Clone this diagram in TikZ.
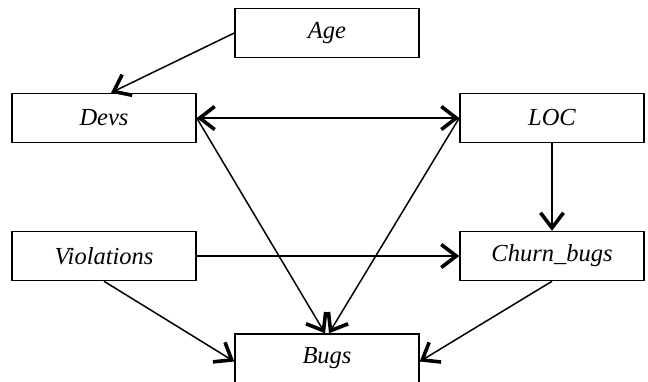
\documentclass[tikz,border=0pt]{standalone}
\usepackage{fontspec}
\setmainfont{Liberation Serif}
\usetikzlibrary{arrows.meta}
\begin{document}
\begin{tikzpicture}[x=1pt,y=-1pt,
  box/.style={draw, line width=1.5pt, minimum width=184pt, minimum height=49pt,
    inner sep=0pt, font=\fontsize{24.5}{28}\selectfont\itshape},
  tipstyle/.style={},
  conn/.style={line width=1.5pt, -{Straight Barb[length=15pt,width=23pt,line width=3.6pt]}},
  bothconn/.style={line width=1.5pt, {Straight Barb[length=15pt,width=23pt,line width=3.6pt]}-{Straight Barb[length=15pt,width=23pt,line width=3.6pt]}}]
\useasboundingbox (0,0) rectangle (648,381);
\begin{scope}
\clip (0,0) rectangle (648,381);
\node[box] (age) at (327,33) {Age};
\node[box] (devs) at (104,118) {Devs};
\node[box] (loc) at (552,118) {LOC};
\node[box] (viol) at (104,256) {Violations};
\node[box] (churn) at (552,256) {Churn\_bugs};
\node[box] (bugs) at (327,358.5) {Bugs};
\coordinate (devstop) at ([xshift=7pt]devs.north);
\coordinate (bugsl) at ([xshift=-2pt]bugs.north);
\coordinate (bugsr) at ([xshift=2pt]bugs.north);
\coordinate (bugsw) at ([yshift=-3pt]bugs.west);
\coordinate (bugse) at ([yshift=-3pt]bugs.east);
\draw[conn] (age.west) -- (devstop);
\draw[bothconn] (devs.east) -- (loc.west);
\draw[conn] (devs.east) -- (bugsl);
\draw[conn] (loc.west) -- (bugsr);
\draw[conn] (loc.south) -- (churn.north);
\draw[conn] (viol.east) -- (churn.west);
\draw[conn] (viol.south) -- (bugsw);
\draw[conn] (churn.south) -- (bugse);
\end{scope}
\end{tikzpicture}
\end{document}
